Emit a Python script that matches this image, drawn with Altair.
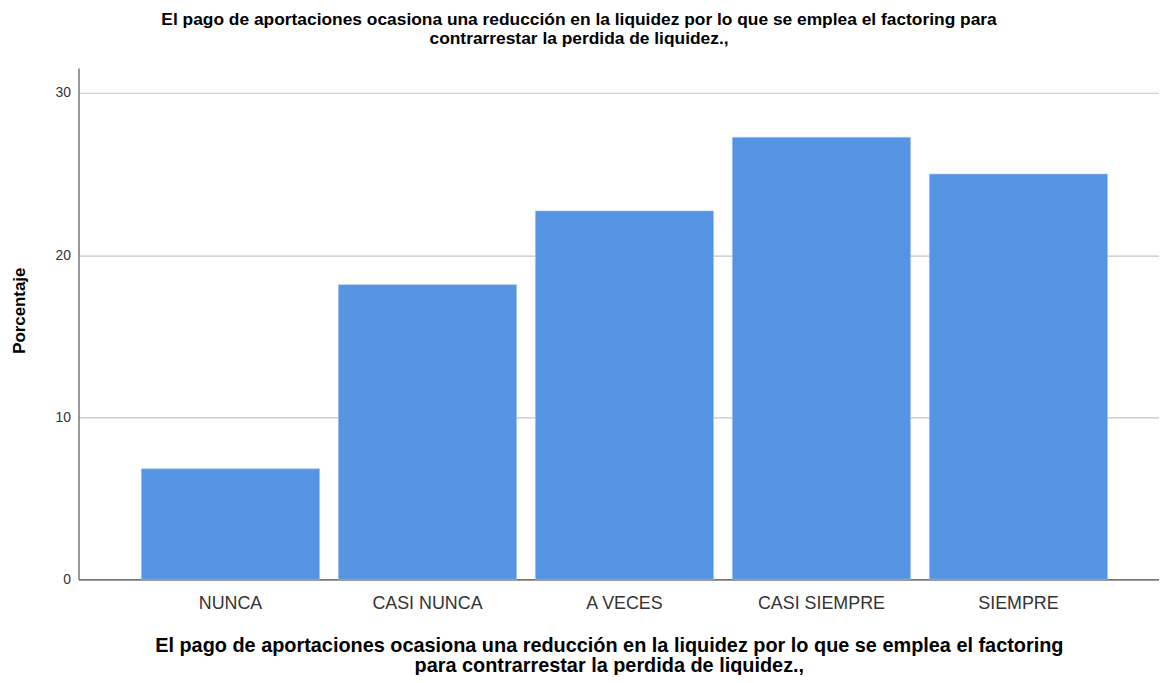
import altair as alt
import pandas as pd

categories = ["NUNCA", "CASI NUNCA", "A VECES", "CASI SIEMPRE", "SIEMPRE"]
percentages = [6.82, 18.18, 22.73, 27.27, 25.00]

title_lines = [
    "El pago de aportaciones ocasiona una reducción en la liquidez por lo que se emplea el factoring para",
    "contrarrestar la perdida de liquidez.,",
]
x_title_lines = [
    "El pago de aportaciones ocasiona una reducción en la liquidez por lo que se emplea el factoring",
    "para contrarrestar la perdida de liquidez.,",
]
y_title = "Porcentaje"
y_ticks = [0, 10, 20, 30]

df = pd.DataFrame({"cat": categories, "pct": percentages})

FONT = "Liberation Sans"
W, H = 1088, 515

chart = (
    alt.Chart(df)
    .mark_bar(color="#5594E2", stroke="#A9C8F0", strokeWidth=0.6)
    .encode(
        x=alt.X(
            "cat:N",
            sort=categories,
            scale=alt.Scale(paddingInner=0.095, paddingOuter=0.29, align=0.55),
            axis=alt.Axis(
                title=x_title_lines,
                labelAngle=0,
                labelFont=FONT,
                labelFontSize=18,
                labelColor="#333333",
                labelPadding=15,
                ticks=False,
                domainColor="#555555",
                domainWidth=1.2,
                titleFont=FONT,
                titleFontSize=20,
                titleFontWeight="bold",
                titleColor="#000000",
                titleLineHeight=20,
                titleBaseline="top",
                titleX=534,
                titleY=57,
                titleAlign="center",
            ),
        ),
        y=alt.Y(
            "pct:Q",
            scale=alt.Scale(domain=[0, 31.55], nice=False),
            axis=alt.Axis(
                title=y_title,
                values=y_ticks,
                labelFont=FONT,
                labelFontSize=14,
                labelColor="#333333",
                labelPadding=8,
                ticks=False,
                domainColor="#555555",
                domainWidth=1.2,
                gridColor="#c4c4c4",
                gridWidth=1.2,
                titleFont=FONT,
                titleFontSize=17,
                titleFontWeight="bold",
                titleColor="#000000",
                titleAngle=-90,
                titleX=-59,
                titleY=244,
                titleAlign="center",
                titleBaseline="middle",
            ),
        ),
    )
    .properties(
        width=W,
        height=H,
        autosize=alt.AutoSizeParams(type="none"),
        padding={"left": 71, "top": 58, "right": 0, "bottom": 94},
        title=alt.TitleParams(
            text=title_lines,
            font=FONT,
            fontSize=17.5,
            fontWeight="bold",
            color="#000000",
            lineHeight=19,
            anchor="middle",
            dx=-40,
            offset=21,
        ),
    )
    .configure_view(stroke=None)
    .configure_axisX(grid=False)
)

chart.save("out.html", embed_options={"renderer": "svg", "actions": False})
